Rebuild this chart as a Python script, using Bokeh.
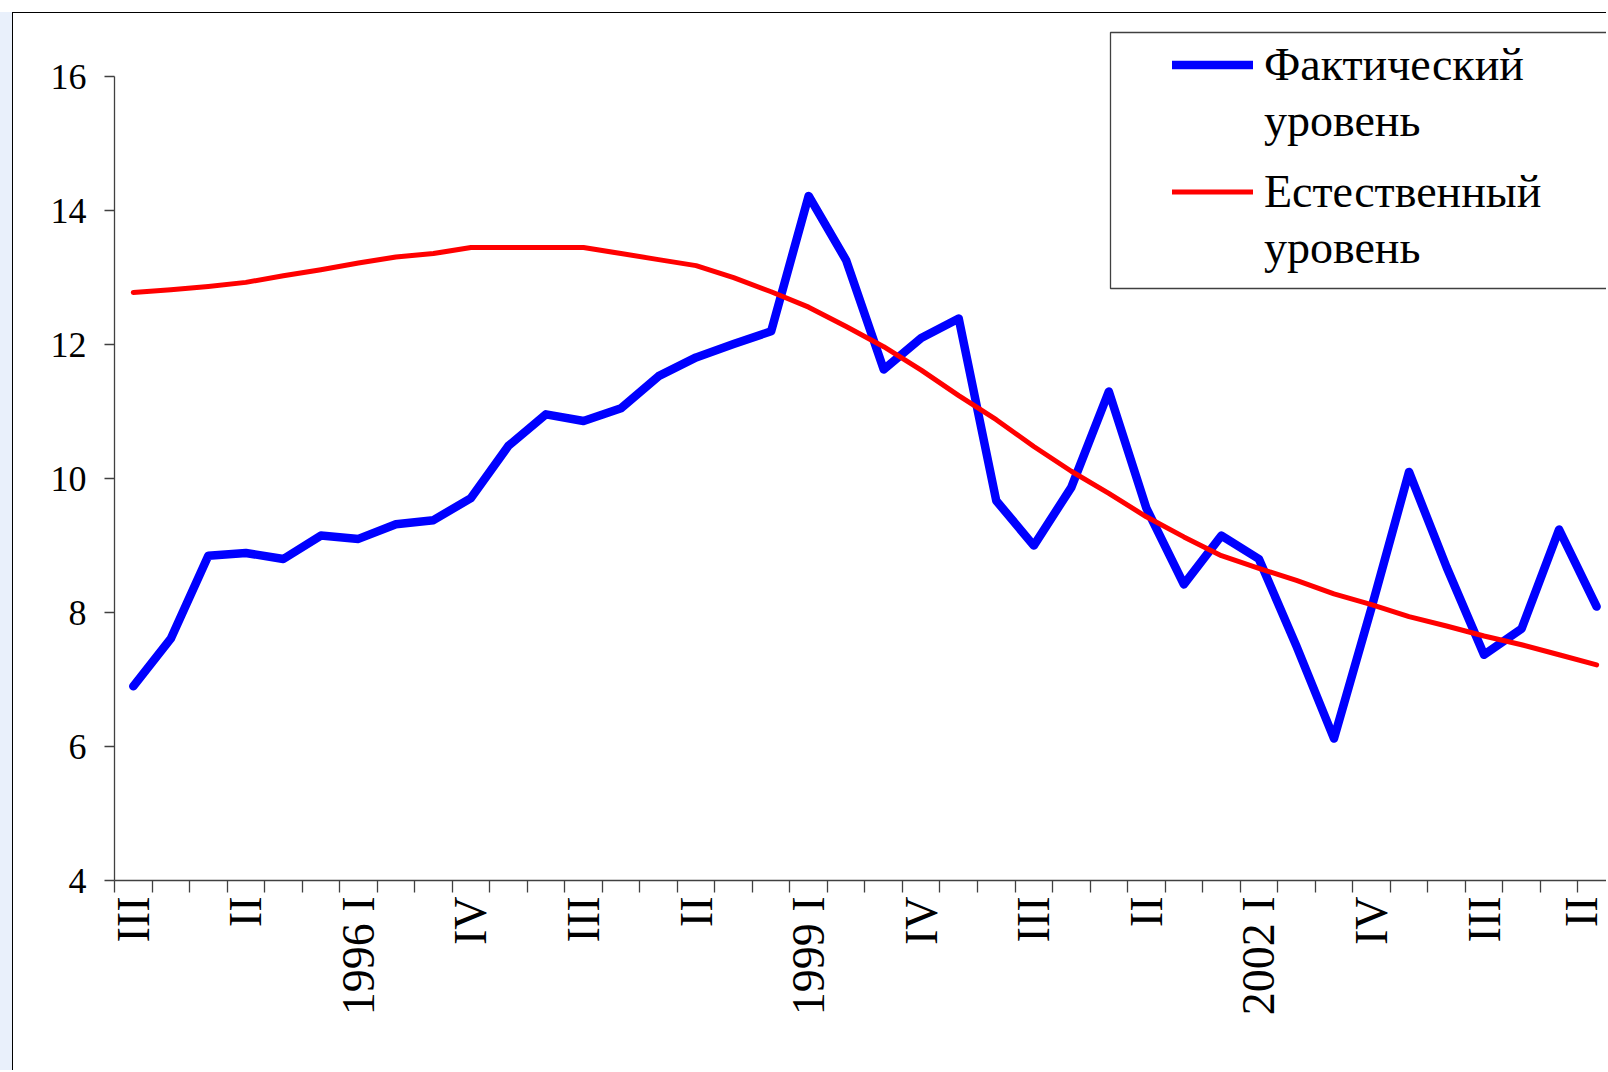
import numpy as np
from bokeh.plotting import figure
from bokeh.models import Range1d, FixedTicker, LinearAxis, Legend, LegendItem, BoxAnnotation
from bokeh.embed import file_html
from bokeh.resources import INLINE

# ---- data -------------------------------------------------------------
quarters = ["III", "IV",
            "1995 I", "II", "III", "IV",
            "1996 I", "II", "III", "IV",
            "1997 I", "II", "III", "IV",
            "1998 I", "II", "III", "IV",
            "1999 I", "II", "III", "IV",
            "2000 I", "II", "III", "IV",
            "2001 I", "II", "III", "IV",
            "2002 I", "II", "III", "IV",
            "2003 I", "II", "III", "IV",
            "2004 I", "II"]

actual = [6.90, 7.61, 8.85, 8.89, 8.80, 9.15, 9.10, 9.32, 9.38, 9.71,
          10.49, 10.96, 10.86, 11.05, 11.53, 11.81, 12.01, 12.20, 14.22, 13.26,
          11.63, 12.10, 12.39, 9.67, 9.00, 9.87, 11.30, 9.56, 8.42, 9.15,
          8.80, 7.50, 6.12, 8.07, 10.10, 8.68, 7.37, 7.76, 9.24, 8.09]

natural = [12.78, 12.82, 12.87, 12.93, 13.03, 13.12, 13.22, 13.31, 13.36, 13.45,
           13.45, 13.45, 13.45, 13.36, 13.27, 13.18, 13.00, 12.79, 12.56, 12.27,
           11.97, 11.62, 11.24, 10.88, 10.48, 10.11, 9.78, 9.43, 9.13, 8.85,
           8.66, 8.48, 8.28, 8.12, 7.94, 7.80, 7.65, 7.52, 7.37, 7.22]

y_ticks = [4, 6, 8, 10, 12, 14, 16]
label_step = 3
actual_name = ["Фактический", "уровень"]
natural_name = ["Естественный", "уровень"]

# ---- layout -----------------------------------------------------------
FONT = "Liberation Serif"
OFF = 13                      # page offset of the figure content
W, H = 1594, 1058
BL, BR, BT, BB = 101, 0, 7, 191
x0, x1 = -0.5, 39.29
y0, y1 = 4, 16.84

xs = list(range(len(quarters)))

p = figure(width=W, height=H, x_range=Range1d(x0, x1), y_range=Range1d(y0, y1),
           output_backend="svg", toolbar_location=None,
           x_axis_type=None, y_axis_type=None,
           min_border_left=BL, min_border_right=BR,
           min_border_top=BT, min_border_bottom=BB)
p.margin = (12, 0, 0, 12)
p.styles = {"border-left": "1px solid #000000", "border-top": "1px solid #000000",
            "box-shadow": "-12px 0 0 0 #e9f0fb"}
p.outline_line_color = None
p.background_fill_color = "white"
p.border_fill_color = "white"

fw, fh = W - BL - BR, H - BT - BB
def px_to_x(px):
    return x0 + (px - OFF - BL) / fw * (x1 - x0)
def py_to_y(py):
    return y0 + (BT + fh - (py - OFF)) / fh * (y1 - y0)

# y axis
yaxis = LinearAxis(ticker=FixedTicker(ticks=y_ticks), bounds=(min(y_ticks), max(y_ticks)))
yaxis.axis_line_color = "#404040"
yaxis.axis_line_width = 1.3
yaxis.major_tick_line_color = "#404040"
yaxis.major_tick_line_width = 1.3
yaxis.major_tick_out = 10
yaxis.major_tick_in = 0
yaxis.minor_tick_out = 0
yaxis.minor_tick_in = 0
yaxis.major_label_text_font = FONT
yaxis.major_label_text_font_size = "36px"
yaxis.major_label_text_color = "black"
yaxis.major_label_standoff = 18
p.add_layout(yaxis, "left")

# x axis (categories)
label_idx = list(range(0, len(quarters), label_step))
boundaries = [i - 0.5 for i in range(len(quarters) + 1)]
xaxis = LinearAxis(ticker=FixedTicker(ticks=label_idx, minor_ticks=boundaries))
xaxis.major_label_overrides = {i: quarters[i] for i in label_idx}
xaxis.axis_line_color = "#404040"
xaxis.axis_line_width = 1.3
xaxis.major_tick_out = 0
xaxis.major_tick_in = 0
xaxis.minor_tick_out = 12
xaxis.minor_tick_in = 0
xaxis.minor_tick_line_color = "#404040"
xaxis.minor_tick_line_width = 1.3
xaxis.major_label_orientation = np.pi / 2
xaxis.major_label_text_font = FONT
xaxis.major_label_text_font_size = "46px"
xaxis.major_label_text_color = "black"
xaxis.major_label_standoff = 4
p.add_layout(xaxis, "below")

# legend box
box = BoxAnnotation(left=px_to_x(1110), right=px_to_x(1700),
                    top=py_to_y(32), bottom=py_to_y(288),
                    fill_color="white", fill_alpha=1.0,
                    line_color="#404040", line_alpha=1.0, line_width=1.3,
                    level="underlay")
p.add_layout(box)

# series
r_act = p.line(xs, actual, line_color="#0000FF", line_width=8.5,
               line_join="round", line_cap="round")
r_nat = p.line(xs, natural, line_color="#FF0000", line_width=5,
               line_join="round", line_cap="round")
d1 = p.line([], [], line_alpha=0)
d2 = p.line([], [], line_alpha=0)

ITEM_H, SPACING = 55, 1
leg_h = 2 * ITEM_H + SPACING
frame_left_page = OFF + BL
frame_bottom_page = OFF + BT + fh

def make_legend(names, rend, dummy, top_page):
    return Legend(items=[LegendItem(label=names[0], renderers=[rend]),
                         LegendItem(label=names[1], renderers=[dummy])],
                  location=(1172 - frame_left_page, frame_bottom_page - top_page - leg_h),
                  padding=0, margin=0, spacing=SPACING,
                  border_line_color=None, background_fill_alpha=0,
                  glyph_width=81, glyph_height=ITEM_H, label_height=ITEM_H,
                  label_standoff=11,
                  label_text_font=FONT, label_text_font_size="46px",
                  label_text_color="black")

p.add_layout(make_legend(actual_name, r_act, d1, 37))
p.add_layout(make_legend(natural_name, r_nat, d2, 164))

open("out.html", "w").write(file_html(p, INLINE))
